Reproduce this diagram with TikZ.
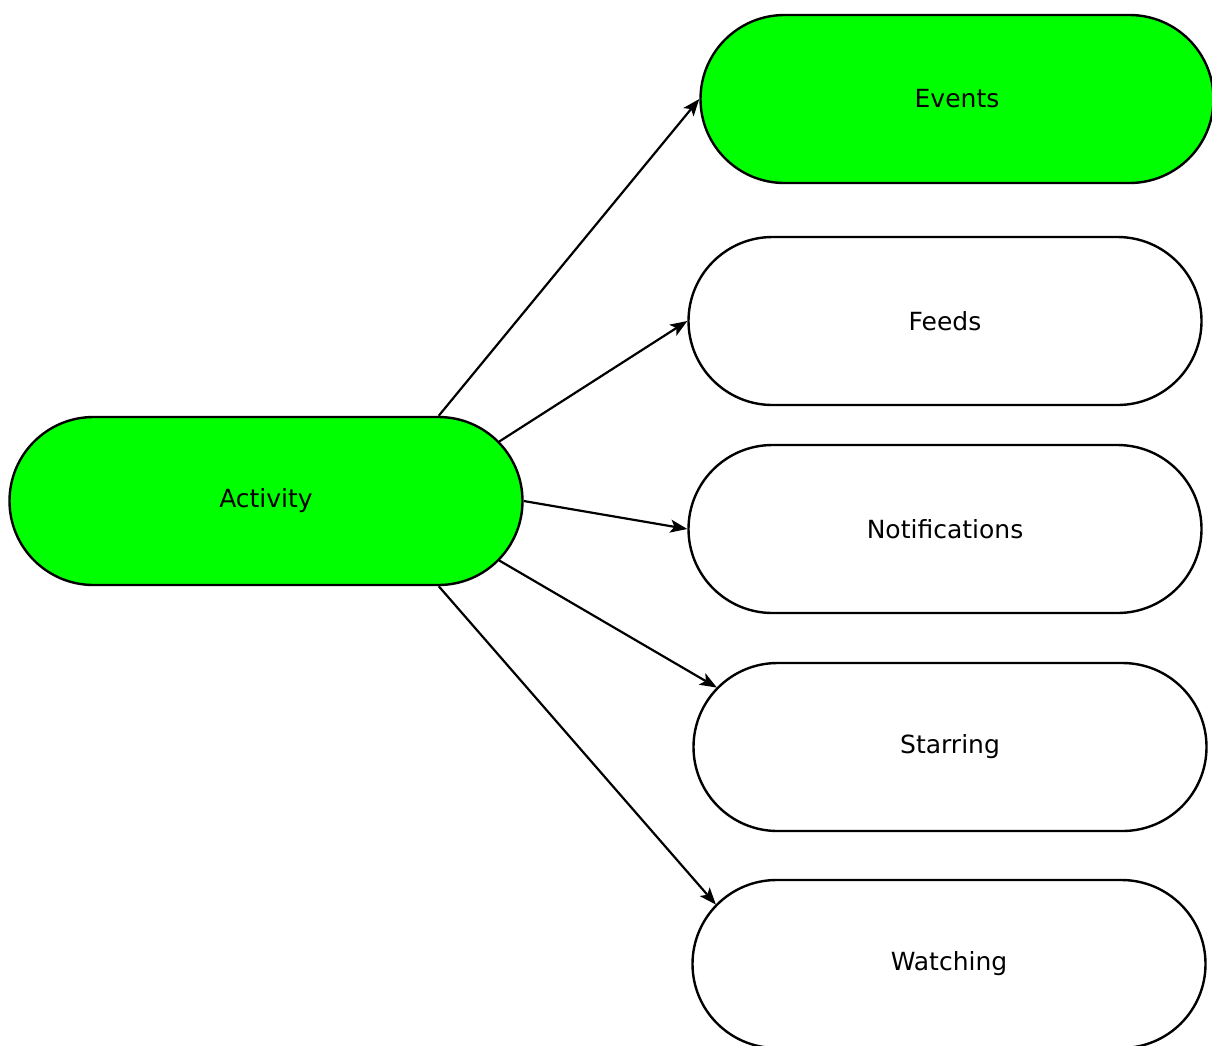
\documentclass[tikz,border=0pt]{standalone}
\usepackage{fontspec}
\setmainfont{DejaVu Sans}
\usetikzlibrary{arrows.meta,calc}
\definecolor{hlgreen}{RGB}{0,255,0}
\tikzset{
  pill/.style={draw=black, line width=2.4pt, rectangle, rounded corners=84pt,
    minimum width=513pt, minimum height=168pt, inner sep=0pt,
    font=\fontsize{25}{30}\selectfont},
  hot/.style={pill, fill=hlgreen},
  cold/.style={pill, fill=white},
  link/.style={line width=2.2pt, -{Stealth[length=17pt,width=13pt,inset=4pt]}}
}
\begin{document}
\begin{tikzpicture}[x=1pt,y=-1pt]
  \useasboundingbox (0,0) rectangle (1212,1045);
  % topic nodes
  \node[hot]  (act)   at (266,501) {Activity};
  \node[hot]  (ev)    at (957,99)  {Events};
  \node[cold] (feeds) at (945,321) {Feeds};
  \node[cold] (notif) at (945,529) {Notifications};
  \node[cold] (star)  at (950,747) {Starring};
  \node[cold] (watch) at (949,964) {Watching};
  % points on the rounded ends (y grows downwards here)
  \coordinate (aTop) at ($(act.north east)+(-85,0)$);
  \coordinate (aNE)  at ($(act.east)+(-84,0)+(-45:84)$);
  \coordinate (aSE)  at ($(act.east)+(-84,0)+(45:84)$);
  \coordinate (aBot) at ($(act.south east)+(-85,0)$);
  \coordinate (sNW)  at ($(star.west)+(84,0)+(-135:84)$);
  \coordinate (wNW)  at ($(watch.west)+(84,0)+(-135:84)$);
  % connectors
  \draw[link] (aTop) -- (ev.west);
  \draw[link] (aNE) -- (feeds.west);
  \draw[link] (act.east) -- (notif.west);
  \draw[link] (aSE) -- (sNW);
  \draw[link] (aBot) -- (wNW);
\end{tikzpicture}
\end{document}
